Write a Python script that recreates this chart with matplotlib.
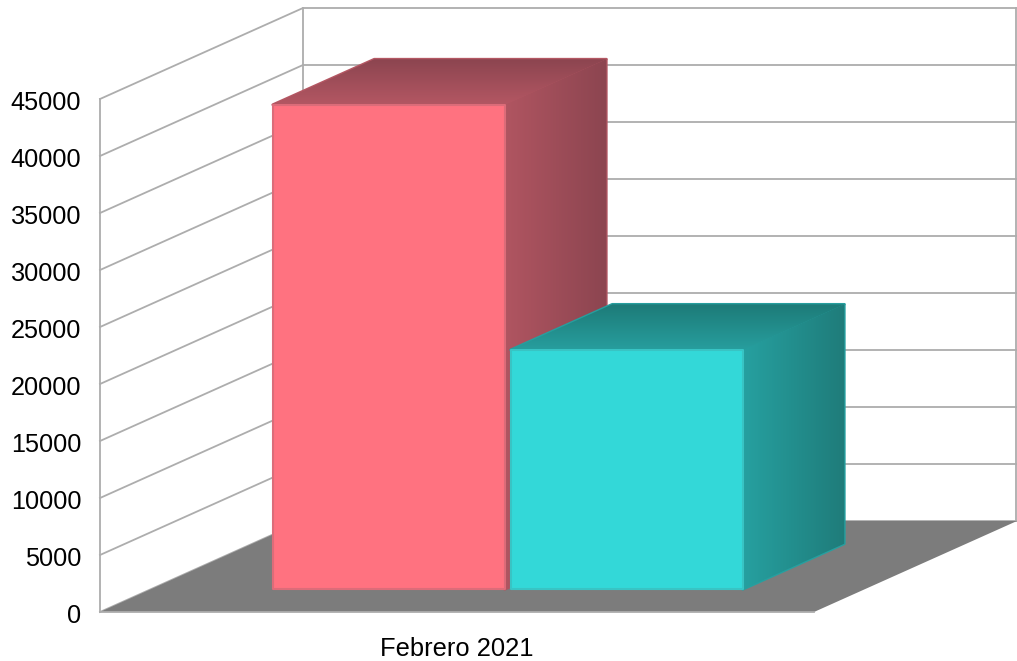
import numpy as np
import matplotlib
matplotlib.use('Agg')
import matplotlib.pyplot as plt
from matplotlib.colors import LinearSegmentedColormap
from matplotlib.patches import Polygon
from matplotlib.transforms import ScaledTranslation

plt.rcParams['font.family'] = ['Liberation Sans', 'DejaVu Sans']

categories = ['Febrero 2021']
series_a = [42500]
series_b = [21000]
yticks = [0, 5000, 10000, 15000, 20000, 25000, 30000, 35000, 40000, 45000]

W, H = 1017, 661
GRID = '#adadad'
FLOOR = '#7c7c7c'

fig = plt.figure(figsize=(W / 100, H / 100), dpi=100)
ax = fig.add_axes([100 / W, (H - 612) / H, 714 / W, 513 / H])
ax.set_xlim(-0.5, 0.5)
ax.set_ylim(0, 45000)
ax.autoscale(False)

# oblique depth vector, in data units
depth_x = 203 / 714
depth_y = 91 / 57 * 5000


def pt(x, v, d):
    return (x + d * depth_x, v + d * depth_y)


# walls
for v in yticks:
    xs = [-0.5, -0.5 + depth_x, 0.5 + depth_x]
    ys = [v, v + depth_y, v + depth_y]
    ax.plot(xs, ys, color=GRID, lw=1.3, clip_on=False, zorder=1)
for x in [-0.5 + depth_x, 0.5 + depth_x - 0.0014]:
    ax.plot([x, x], [depth_y, 45000 + depth_y], color=GRID, lw=1.3, clip_on=False, zorder=1)

# floor
floor = Polygon([pt(-0.5, 0, 0), pt(0.5, 0, 0), pt(0.5, 0, 1), pt(-0.5, 0, 1)],
                closed=True, fc=FLOOR, ec='none', clip_on=False, zorder=2)
ax.add_patch(floor)


def shaded(poly_pts, c_start, c_end, horizontal, z):
    # gradient face, c_start at the front edge and c_end at the back edge
    # the outline sits under every gradient of the bar so it only shows on the outside
    edge = Polygon(poly_pts, closed=True, fc=c_start, ec=c_start, lw=2, joinstyle='round',
                   clip_on=False, zorder=z - 0.5)
    ax.add_patch(edge)
    cmap = LinearSegmentedColormap.from_list('face', [c_start, c_end])
    g = np.linspace(0, 1, 128)
    g = g.reshape(1, -1) if horizontal else g.reshape(-1, 1)
    arr = np.array(poly_pts)
    im = ax.imshow(g, cmap=cmap, aspect='auto', origin='lower', interpolation='bilinear',
                   extent=[arr[:, 0].min(), arr[:, 0].max(), arr[:, 1].min(), arr[:, 1].max()],
                   zorder=z)
    im.set_clip_box(fig.bbox)
    im.set_clip_path(edge)


def bar3d(x0, x1, value, front, edge, side_c, top_c, z):
    d0, d1 = 0.25, 0.75
    side = [pt(x1, 0, d0), pt(x1, 0, d1), pt(x1, value, d1), pt(x1, value, d0)]
    top = [pt(x0, value, d0), pt(x1, value, d0), pt(x1, value, d1), pt(x0, value, d1)]
    shaded(side, side_c[0], side_c[1], True, z)
    shaded(top, top_c[0], top_c[1], False, z + 0.1)
    face = Polygon([pt(x0, 0, d0), pt(x1, 0, d0), pt(x1, value, d0), pt(x0, value, d0)],
                   closed=True, fc=front, ec=edge, lw=1.5, joinstyle='round',
                   clip_on=False, zorder=z + 0.2)
    ax.add_patch(face)


inset = 3 / 714
bar3d(-1 / 3 + inset, 0 - inset, series_a[0], '#ff7280', '#dc6c79',
      ('#b05561', '#8c4550'), ('#b45763', '#8c4550'), 3)
bar3d(0 + inset, 1 / 3 - inset, series_b[0], '#33d8d8', '#38c4c4',
      ('#26a0a0', '#1f7c7a'), ('#279e9e', '#1d7b78'), 4)

# axes and labels
for s in ['top', 'right']:
    ax.spines[s].set_visible(False)
ax.spines['left'].set_color(GRID)
ax.spines['bottom'].set_color(GRID)
ax.spines['left'].set_linewidth(1.3)
ax.spines['bottom'].set_linewidth(1.3)
ax.patch.set_alpha(0)
ax.set_yticks(yticks)
ax.set_xticks([0])
ax.set_xticklabels(categories)
ax.tick_params(axis='y', length=0, pad=13.5, labelsize=18.2, labelcolor='black')
ax.tick_params(axis='x', length=0, pad=18, labelsize=18.4, labelcolor='black')

# tick labels sit slightly below their gridlines
down = ScaledTranslation(0, -1.5 / 100, fig.dpi_scale_trans)
for lab in ax.get_yticklabels():
    lab.set_transform(lab.get_transform() + down)

fig.savefig('out.png', dpi=100, facecolor='white')
